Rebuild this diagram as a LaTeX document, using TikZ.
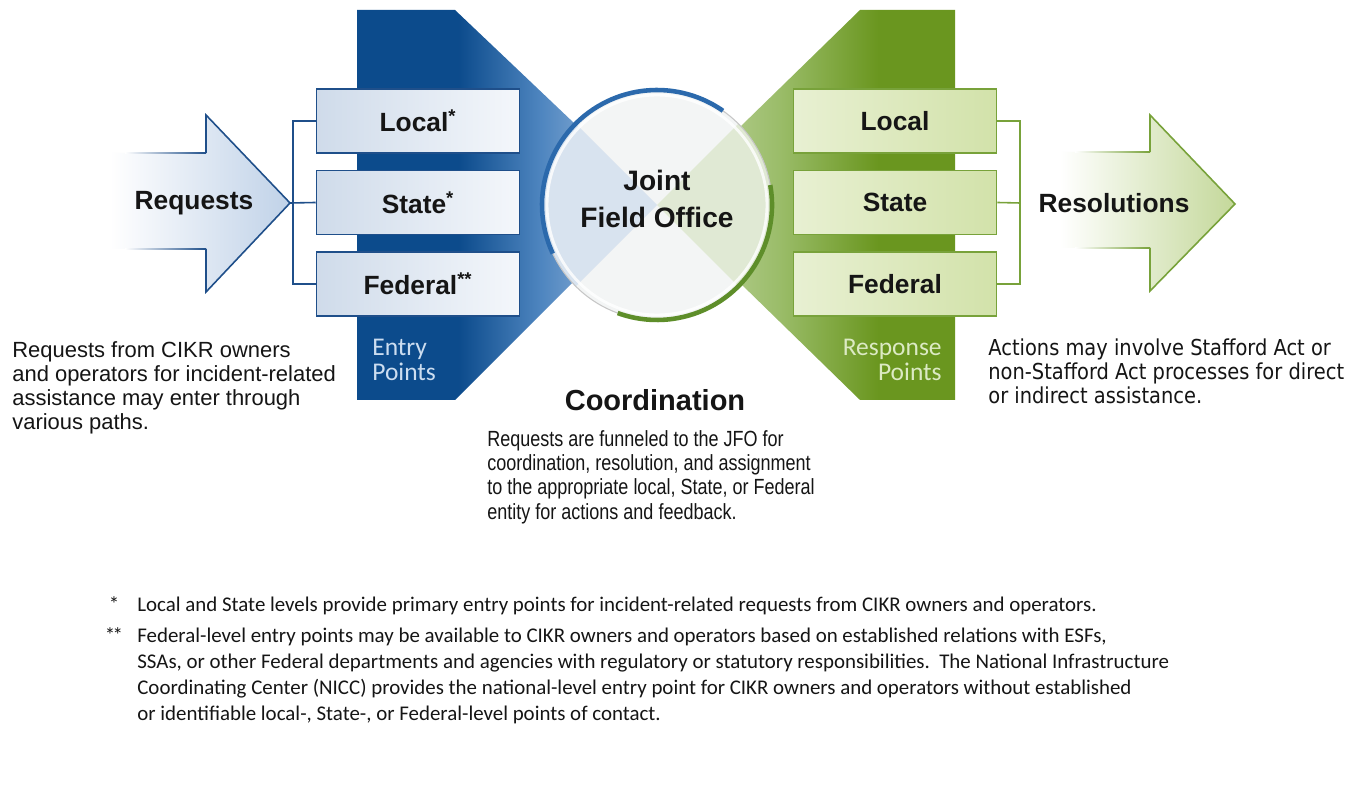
\documentclass[tikz,border=0pt]{standalone}
\usepackage{fontspec}
\setmainfont{Liberation Sans}
\newfontfamily\narrowfont[FakeStretch=0.82]{Liberation Sans}
\newfontfamily\verdfont[FakeStretch=0.885]{DejaVu Sans}
\newfontfamily\calfont{Carlito}
\usetikzlibrary{positioning, calc}

\definecolor{bluedark}{HTML}{0C4B8C}
\definecolor{bluemid}{HTML}{4F86C0}
\definecolor{bluelight}{HTML}{B5CCE6}
\definecolor{blueline}{HTML}{1F4F8A}
\definecolor{bluefill}{HTML}{C0D2E8}
\definecolor{boxblueL}{HTML}{CFDBEA}
\definecolor{boxblueR}{HTML}{F4F7FB}
\definecolor{greendark}{HTML}{6A961F}
\definecolor{greenmid}{HTML}{9BBD6A}
\definecolor{greenlight}{HTML}{C8DAAE}
\definecolor{greenline}{HTML}{78A23A}
\definecolor{greenfill}{HTML}{C4D89A}
\definecolor{boxgreenL}{HTML}{E8F0D2}
\definecolor{boxgreenR}{HTML}{D2E2AA}
\definecolor{jfogray}{HTML}{F3F5F5}
\definecolor{jfoleft}{HTML}{D8E3EF}
\definecolor{jforight}{HTML}{E0E9D4}
\definecolor{rimblue}{HTML}{2B69AC}
\definecolor{rimgreen}{HTML}{5E8E2A}
\definecolor{entrytext}{HTML}{CCDDF0}
\definecolor{resptext}{HTML}{DCEAC4}
\definecolor{textdark}{HTML}{151515}

\pgfdeclarehorizontalshading{entryshade}{100bp}{color(0bp)=(bluedark); color(25bp)=(bluedark); color(42bp)=(bluedark); color(56bp)=(bluemid); color(75bp)=(bluelight); color(100bp)=(bluelight)}
\pgfdeclarehorizontalshading{respshade}{100bp}{color(0bp)=(greenlight); color(25bp)=(greenlight); color(45bp)=(greenmid); color(62bp)=(greendark); color(75bp)=(greendark); color(100bp)=(greendark)}

\begin{document}
\begin{tikzpicture}[
  x=0.02cm, y=-0.02cm,
  node distance=1.63cm,
  entrybox/.style={draw=blueline, line width=0.9pt, left color=boxblueL, right color=boxblueR, minimum width=4.06cm, minimum height=1.28cm, font=\bfseries\fontsize{15}{18}\selectfont, text=textdark},
  respbox/.style={draw=greenline, line width=0.9pt, left color=boxgreenL, right color=boxgreenR, minimum width=4.06cm, minimum height=1.28cm, font=\bfseries\fontsize{15}{18}\selectfont, text=textdark},
  biglabel/.style={font=\bfseries\fontsize{15}{18}\selectfont, text=textdark},
  jfo/.style={circle, minimum size=4.6cm, inner sep=0pt, fill=jfogray,
    path picture={
      \fill[jfoleft] (path picture bounding box.center) -- ++(-3cm,3cm) -- ++(0,-6cm) -- cycle;
      \fill[jforight] (path picture bounding box.center) -- ++(3cm,3cm) -- ++(0,-6cm) -- cycle;
    }},
  jfotext/.style={align=center, font=\bfseries\fontsize{16}{21.5}\selectfont, text=textdark},
  bluelink/.style={draw=blueline, line width=0.9pt},
  greenlink/.style={draw=greenline, line width=0.9pt},
  bandtext/.style={font=\calfont\fontsize{14.5}{14.7}\selectfont, inner sep=0pt},
  descnote/.style={align=left, inner sep=0pt, text=textdark},
  footnote/.style={descnote, font=\calfont\fontsize{11.9}{14.7}\selectfont}
]
\path[use as bounding box, fill=white] (0,0) rectangle (1348,793);

% Entry and response bands
\shade[shading=entryshade] (357,10) -- (455,10) -- (655,200) -- (455,400) -- (357,400) -- cycle;
\shade[shading=respshade] (955,10) -- (860,10) -- (660,205) -- (860,400) -- (955,400) -- cycle;

% Joint Field Office
\node[jfo] (jfo) at (657,205) {};
\draw[gray!45, line width=0.6pt] (jfo.center) circle (2.3cm);
\draw[white, line width=1.6pt, opacity=0.8] (jfo.center) circle (2.2cm);
\draw[rimblue, line width=2.6pt] ([shift={(205:2.3cm)}]jfo.center) arc[start angle=205, end angle=55, radius=2.3cm];
\draw[rimgreen, line width=2.6pt] ([shift={(10:2.3cm)}]jfo.center) arc[start angle=10, end angle=-110, radius=2.3cm];
\node[jfotext] (jfo_label) at ($(jfo.center)+(0,-6)$) {Joint\\Field Office};

% Requests arrow
\shade[left color=white, right color=bluefill] (110,153) -- (206,153) -- (206,115) -- (290,203) -- (206,292) -- (206,249) -- (110,249) -- cycle;
\draw[bluelink, line join=miter] (206,153) -- (206,115) -- (290,203) -- (206,292) -- (206,249);
\shade[left color=white, right color=blueline] (125,152.2) rectangle (206,153.8);
\shade[left color=white, right color=blueline] (125,248.2) rectangle (206,249.8);
\node[biglabel] (req_label) at (194,203) {Requests};
\coordinate (req_tip) at (290,203);

% Entry points
\node[entrybox] (local_in) at (418,121) {Local\textsuperscript{*}};
\node[entrybox, below of=local_in] (state_in) {State\textsuperscript{*}};
\node[entrybox, below of=state_in] (fed_in) {Federal\textsuperscript{**}};
\coordinate (in_bus) at (293,203);
\draw[bluelink] (local_in.west) -| (in_bus) |- (fed_in.west);
\draw[bluelink] (state_in.west) -- (req_tip);
\node[bandtext, text=entrytext, align=left, anchor=base west] (entry_label) at (372,381) {Entry\\Points};

% Response points
\node[respbox] (local_out) at (895,121) {Local};
\node[respbox, below of=local_out] (state_out) {State};
\node[respbox, below of=state_out] (fed_out) {Federal};
\coordinate (out_bus) at (1020,203);
\draw[greenlink] (local_out.east) -| (out_bus) |- (fed_out.east);
\draw[greenlink] (state_out.east) -- (out_bus);
\node[bandtext, text=resptext, align=right, anchor=base east] (resp_label) at (942,381) {Response\\Points};

% Resolutions arrow
\shade[left color=white, right color=greenfill] (1060,152) -- (1150,152) -- (1150,115) -- (1235,204) -- (1150,291) -- (1150,248) -- (1060,248) -- cycle;
\draw[greenlink, line join=miter] (1150,152) -- (1150,115) -- (1235,204) -- (1150,291) -- (1150,248);
\shade[left color=white, right color=greenline] (1075,151.2) rectangle (1150,152.8);
\shade[left color=white, right color=greenline] (1075,247.2) rectangle (1150,248.8);
\node[biglabel] (res_label) at (1114,203) {Resolutions};

% Notes
\node[descnote, anchor=base west, font=\fontsize{12.5}{13.7}\selectfont] (req_note) at (12,430) {Requests from CIKR owners\\and operators for incident-related\\assistance may enter through\\various paths.};
\node[descnote, anchor=base west, font=\verdfont\fontsize{12.5}{13.9}\selectfont] (act_note) at (988,404) {Actions may involve Stafford Act or\\non-Stafford Act processes for direct\\or indirect assistance.};
\node[biglabel, font=\bfseries\fontsize{16.5}{19}\selectfont] (coord_label) at (655,400) {Coordination};
\node[descnote, anchor=base west, font=\narrowfont\fontsize{12.5}{13.7}\selectfont] (coord_note) at (487,519) {Requests are funneled to the JFO for\\coordination, resolution, and assignment\\to the appropriate local, State, or Federal\\entity for actions and feedback.};

% Footnotes
\node[footnote, anchor=base] (star_mark) at (114,611) {*};
\node[footnote, anchor=base] (dstar_mark) at (114,642) {*\kern-1.5pt*};
\node[footnote, anchor=base west] (star_note) at (137,611) {Local and State levels provide primary entry points for incident-related requests from CIKR owners and operators.};
\node[footnote, anchor=base west] (dstar_note) at (137,720) {Federal-level entry points may be available to CIKR owners and operators based on established relations with ESFs,\\SSAs, or other Federal departments and agencies with regulatory or statutory responsibilities.\ \ The National Infrastructure\\Coordinating Center (NICC) provides the national-level entry point for CIKR owners and operators without established\\or identifiable local-, State-, or Federal-level points of contact.};

\end{tikzpicture}
\end{document}
